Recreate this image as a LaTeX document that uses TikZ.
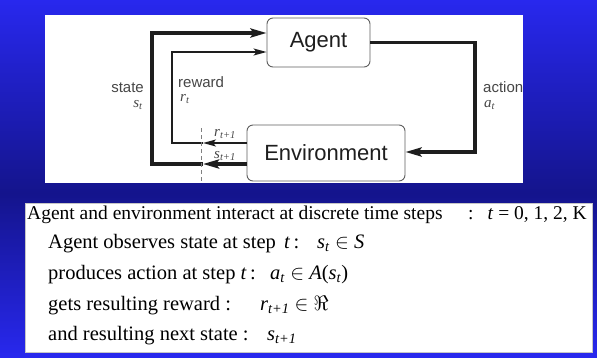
\documentclass[tikz,border=0pt]{standalone}
\usepackage{fontspec}
\setmainfont{Liberation Serif}
\setsansfont{Liberation Sans}
\usetikzlibrary{arrows.meta,calc}
\definecolor{bgblue}{RGB}{40,40,238}
\definecolor{bgdark}{RGB}{20,20,140}
\definecolor{ink}{RGB}{30,30,30}
\definecolor{boxline}{RGB}{95,95,95}
\definecolor{labelgray}{RGB}{70,70,70}
\newcommand\vsub[2]{\textit{#1}\textsubscript{\textit{#2}}}
\begin{document}
\begin{tikzpicture}[x=1pt,y=-1pt,
  blk/.style={draw=boxline, line width=0.9pt, rounded corners=6pt, fill=white,
    font=\sffamily\fontsize{22}{22}\selectfont, text=ink, inner sep=0pt},
  thickflow/.style={draw=ink, line width=3.6pt},
  thinflow/.style={draw=ink, line width=1.5pt},
  bigtip/.style={-{Stealth[length=16pt,width=9pt,inset=3pt]}},
  smalltip/.style={-{Stealth[length=13pt,width=7pt,inset=3pt]}},
  lbl/.style={font=\sffamily\fontsize{15}{15}\selectfont, text=labelgray, inner sep=0pt},
  var/.style={font=\fontsize{15}{15}\selectfont, text=labelgray, inner sep=0pt},
  txt/.style={font=\fontsize{19.5}{19.5}\selectfont, text=black, inner sep=0pt, anchor=base west},
  txtb/.style={font=\fontsize{20.5}{20.5}\selectfont, text=black, inner sep=0pt, anchor=base west},
  timeline/.style={draw=gray, line width=0.6pt, dash pattern=on 4pt off 3pt}]
\useasboundingbox (0,0) rectangle (597,357);
% background
\shade[top color=bgblue, bottom color=bgdark] (0,0) rectangle (597,193);
\shade[top color=bgdark, bottom color=bgblue] (0,193) rectangle (597,357);
% panels
\fill[white] (45,15) rectangle (523,183);
\fill[white] (25,203) rectangle (592,352);
\draw[gray!45, line width=0.5pt] (25,203) rectangle (592,352);
% boxes
\node[blk, minimum width=103pt, minimum height=49pt] (agent) at (318.5,42.5) {Agent};
\node[blk, minimum width=158pt, minimum height=56pt] (env) at (326,153) {Environment};
% coordinates
\coordinate (sTop) at (152,33);
\coordinate (sBot) at (152,164);
\coordinate (sCut) at (203,164);
\coordinate (rTop) at (172,52);
\coordinate (rBot) at (172,143);
\coordinate (rCut) at (203,143);
\coordinate (aTop) at (475,42.5);
\coordinate (aBot) at (475,152);
\coordinate (tTop) at (201,128);
\coordinate (tBot) at (201,183);
% state
\draw[thickflow,bigtip] (env.west |- sBot) -- (sCut);
\draw[thickflow,bigtip] (sCut) -- (sBot) -- (sTop) -- (agent.west |- sTop);
% reward
\draw[thinflow,smalltip] (env.west |- rBot) -- (rCut);
\draw[thinflow,smalltip] (rCut) -- (rBot) -- (rTop) -- (agent.west |- rTop);
% action
\draw[thickflow,bigtip] (agent.east |- aTop) -- (aTop) -- (aBot) -- (env.east |- aBot);
% time cut
\draw[timeline] (tTop) -- (tBot);
% labels
\node[lbl, anchor=east] (lstate) at (144,88) {state};
\node[var, anchor=east] (lst) at (143,105) {\vsub{s}{t}};
\node[lbl, anchor=west] (lrew) at (178,82) {reward};
\node[var, anchor=west] (lrt) at (180,99) {\vsub{r}{t}};
\node[var, anchor=west] (lr1) at (214,134) {\vsub{r}{t+1}};
\node[var, anchor=west] (ls1) at (214,156) {\vsub{s}{t+1}};
\node[lbl, anchor=west] (lact) at (483,87) {action};
\node[var, anchor=west] (lat) at (484,105) {\vsub{a}{t}};
% bottom text
\node[txt] (l1) at (27,219) {Agent and environment interact at discrete time steps};
\node[txt] (l1c) at (468,219) {:};
\node[txt, anchor=base east] (l1m) at (587,219) {\textit{t} = 0, 1, 2, K};
\node[txtb] (l2) at (48,248) {Agent observes state at step\hspace{0.4em}\textit{t}\,:};
\node[txtb] (l2m) at (317,248) {\vsub{s}{t} $\in$ \textit{S}};
\node[txtb] (l3) at (48,279) {produces action at step \textit{t}\,:};
\node[txtb] (l3m) at (270,279) {\vsub{a}{t} $\in$ \textit{A}(\vsub{s}{t})};
\node[txtb] (l4) at (48,310) {gets resulting reward :};
\node[txtb] (l4m) at (260,310) {\vsub{r}{t+1} $\in$ $\Re$};
\node[txtb] (l5) at (48,340) {and resulting next state :};
\node[txtb] (l5m) at (267,340) {\vsub{s}{t+1}};
\end{tikzpicture}
\end{document}
